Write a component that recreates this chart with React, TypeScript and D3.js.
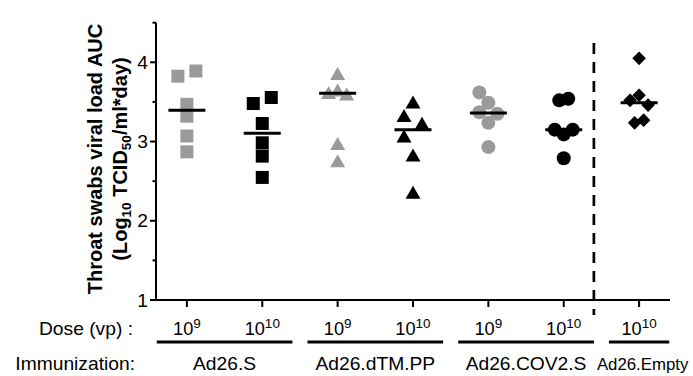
import React from 'react';
import * as d3 from 'd3';

// Dose exponent (10^n vp) for each of the seven groups
const doseExponents = ['9', '10', '9', '10', '9', '10', '10'];
// Vaccine names, and which vaccine each group belongs to
const vaccines = ['Ad26.S', 'Ad26.dTM.PP', 'Ad26.COV2.S', 'Ad26.Empty'];
const vaccineOfGroup = [0, 0, 1, 1, 2, 2, 3];
const markerShapes = ['square', 'square', 'triangle', 'triangle', 'circle', 'circle', 'diamond'];
const markerFills = ['#9a9a9a', '#000', '#9a9a9a', '#000', '#9a9a9a', '#000', '#000'];

// Throat swab viral load AUC (log10 TCID50/ml*day), one array per group
const adSLow = [3.825, 3.89, 3.47, 3.32, 3.07, 2.87];
const adSHigh = [3.48, 3.556, 3.228, 2.984, 2.816, 2.547];
const dTmLow = [3.86, 3.65, 3.62, 3.6, 2.976, 2.757];
const dTmHigh = [3.5, 3.33, 3.23, 3.07, 2.83, 2.36];
const cov2Low = [3.62, 3.49, 3.37, 3.35, 3.236, 2.93];
const cov2High = [3.52, 3.54, 3.15, 3.09, 3.15, 2.79];
const emptyHigh = [4.05, 3.52, 3.585, 3.46, 3.236, 3.27];
const groupValues = [adSLow, adSHigh, dTmLow, dTmHigh, cov2Low, cov2High, emptyHigh];

// Scatter lane of each point within its column (avoids overlapping markers)
const groupLanes = [
  [-1, 1, 0, 0, 0, 0],
  [-1, 1, 0, 0, 0, 0],
  [0, 0, -1, 1, 0, 0],
  [0, -1, 1, -1, 0, 0],
  [-1, 0, -1, 1, 0, 0],
  [-0.5, 0.5, -1, 0, 1, 0],
  [0, -1, 0, 1, -0.5, 0.5],
];

const yMajorTicks = [1, 2, 3, 4];
const yMinorTicks = [1.5, 2.5, 3.5, 4.5];

const W = 693;
const H = 376;
const axisX = 156;
const axisY = 300;
const axisRight = 670;
const FONT = 'Liberation Sans, Arial, Helvetica, sans-serif';
const STRETCH = 1.04;

// Text drawn slightly widened horizontally around its anchor point
function WideText({
  x,
  y,
  anchor,
  size,
  children,
}: {
  x: number;
  y: number;
  anchor: 'start' | 'middle' | 'end';
  size: number;
  children: React.ReactNode;
}) {
  return (
    <text transform={`translate(${x},${y}) scale(${STRETCH},1)`} textAnchor={anchor} fontSize={size}>
      {children}
    </text>
  );
}

function Marker({ shape, fill, x, y }: { shape: string; fill: string; x: number; y: number }) {
  if (shape === 'square') {
    const s = 13;
    return <rect x={x - s / 2} y={y - s / 2} width={s} height={s} fill={fill} />;
  }
  if (shape === 'circle') {
    return <circle cx={x} cy={y} r={7} fill={fill} />;
  }
  if (shape === 'triangle') {
    const w = 15;
    const h = 13;
    return (
      <path
        d={`M${x},${y - h / 2}L${x + w / 2},${y + h / 2}L${x - w / 2},${y + h / 2}Z`}
        fill={fill}
      />
    );
  }
  const r = 6.8;
  return <path d={`M${x},${y - r}L${x + r},${y}L${x},${y + r}L${x - r},${y}Z`} fill={fill} />;
}

export default function App() {
  const groupIdx = d3.range(groupValues.length);
  const x = d3.scalePoint<number>().domain(groupIdx).range([axisX, axisRight]).padding(0.41);
  const step = x.step();
  const y = d3.scaleLinear().domain([1, 4.5]).range([axisY, 22.7]);
  const laneWidth = 9;

  // extent of the underline beneath each vaccine's dose labels
  const bracketPad = step * 0.4;
  const dividerX = (x(5) as number) + bracketPad;
  const brackets = vaccines.map((name, vi) => {
    const members = groupIdx.filter((g) => vaccineOfGroup[g] === vi);
    const x0 = (x(members[0]) as number) - bracketPad;
    const x1 = (x(members[members.length - 1]) as number) + bracketPad;
    return { name, x0, x1, afterDivider: x0 > dividerX };
  });
  // the control group's name starts just right of the divider
  const controlLabelStart = dividerX + 3;

  return (
    <div style={{ position: 'absolute', left: 0, top: 0 }}>
      <svg width={W} height={H} style={{ display: 'block', background: '#fff' }} fontFamily={FONT}>
        {/* y axis */}
        <line x1={axisX} x2={axisX} y1={y(4.5)} y2={axisY + 1} stroke="#000" strokeWidth={2} />
        {yMajorTicks.map((t) => (
          <g key={`maj${t}`}>
            <line x1={axisX - 6} x2={axisX} y1={y(t)} y2={y(t)} stroke="#000" strokeWidth={2} />
            <WideText x={axisX - 8} y={y(t) + 6.6} anchor="end" size={18.5}>
              {t}
            </WideText>
          </g>
        ))}
        {yMinorTicks.map((t) => (
          <line key={`min${t}`} x1={axisX - 3.5} x2={axisX} y1={y(t)} y2={y(t)} stroke="#000" strokeWidth={2} />
        ))}

        {/* y axis title */}
        <g transform={`translate(0, 159) rotate(-90)`} fontWeight="bold" fontSize={20} textAnchor="middle">
          <text x={0} y={102}>Throat swabs viral load AUC</text>
          <text x={0} y={127}>
            (Log<tspan fontSize={13.5} dy={4}>10</tspan>
            <tspan dy={-4}> TCID</tspan>
            <tspan fontSize={13.5} dy={4}>50</tspan>
            <tspan dy={-4}>/ml*day)</tspan>
          </text>
        </g>

        {/* x axis */}
        <line x1={axisX - 1} x2={axisRight} y1={axisY} y2={axisY} stroke="#000" strokeWidth={2} />
        {groupIdx.map((g) => (
          <line key={`xt${g}`} x1={x(g)} x2={x(g)} y1={axisY} y2={axisY + 7} stroke="#000" strokeWidth={2} />
        ))}

        {/* divider before the empty-vector control */}
        <line
          x1={dividerX}
          x2={dividerX}
          y1={43}
          y2={315}
          stroke="#000"
          strokeWidth={2.7}
          strokeDasharray="11 8"
        />

        {/* individual animals */}
        {groupValues.map((vals, g) =>
          vals.map((v, i) => (
            <Marker
              key={`p${g}-${i}`}
              shape={markerShapes[g]}
              fill={markerFills[g]}
              x={(x(g) as number) + groupLanes[g][i] * laneWidth}
              y={y(v)}
            />
          ))
        )}

        {/* group medians */}
        {groupValues.map((vals, g) => {
          const m = d3.median(vals) as number;
          const cx = x(g) as number;
          return <line key={`med${g}`} x1={cx - 18.5} x2={cx + 18.5} y1={y(m)} y2={y(m)} stroke="#000" strokeWidth={3} />;
        })}

        {/* dose row */}
        <WideText x={133} y={335} anchor="end" size={18.5}>
          Dose (vp) :
        </WideText>
        {groupIdx.map((g) => (
          <WideText key={`dose${g}`} x={x(g) as number} y={335} anchor="middle" size={17.5}>
            10<tspan fontSize={13} dy={-7}>{doseExponents[g]}</tspan>
          </WideText>
        ))}

        {/* vaccine underlines and names */}
        {brackets.map((b) => (
          <g key={b.name}>
            <line x1={b.x0} x2={b.x1} y1={342} y2={342} stroke="#000" strokeWidth={3} />
            {b.afterDivider ? (
              <text x={controlLabelStart} y={370} fontSize={16.8}>
                {b.name}
              </text>
            ) : (
              <WideText x={(b.x0 + b.x1) / 2} y={370} anchor="middle" size={18.5}>
                {b.name}
              </WideText>
            )}
          </g>
        ))}
        <WideText x={135} y={370} anchor="end" size={18.5}>
          Immunization:
        </WideText>
      </svg>
    </div>
  );
}
